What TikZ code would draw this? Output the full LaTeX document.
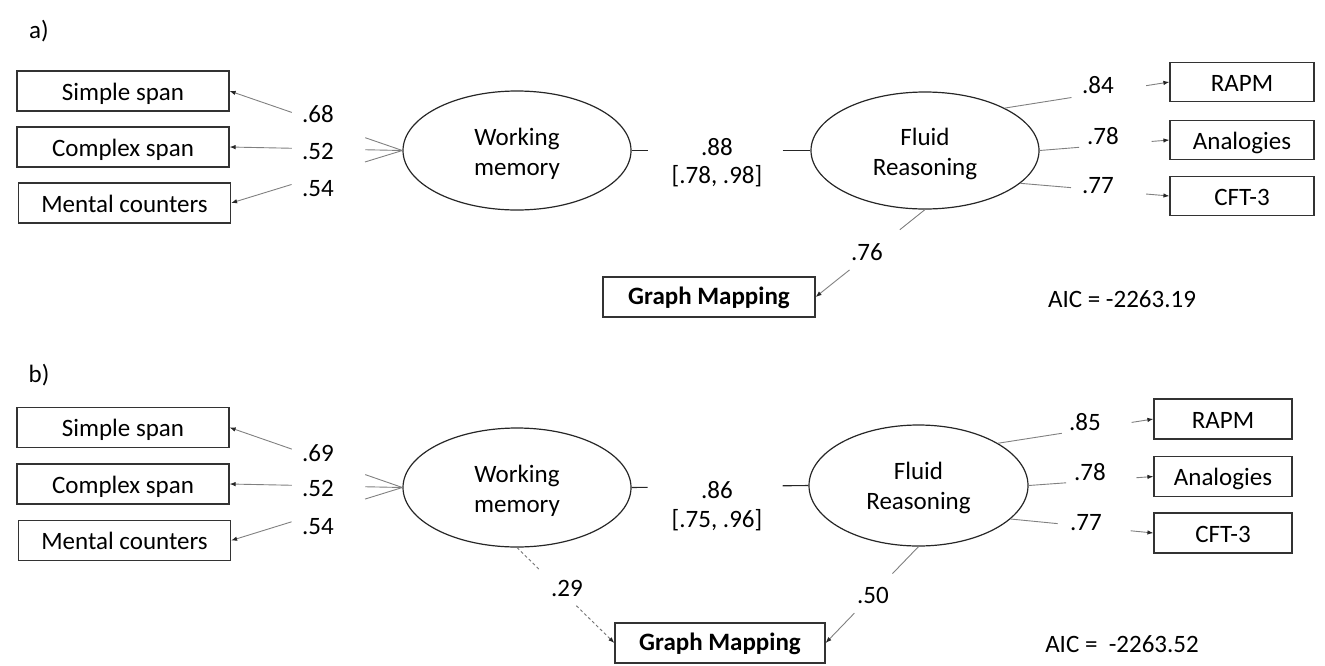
\documentclass[tikz,border=0pt]{standalone}
\usepackage{fontspec}
\setmainfont{Carlito}
\usetikzlibrary{shapes.geometric,arrows.meta}

% a loading drawn as a straight line from #2 to #3, broken between
% positions #4 and #5 where its coefficient sits; #1 styles both pieces
\newcommand\splitlink[6]{%
  \path (#2) -- (#3) coordinate[pos=#4] (#6s) coordinate[pos=#5] (#6e);
  \draw[#1] (#2) -- (#6s);
  \draw[#1,tip] (#6e) -- (#3);}

\begin{document}
\begin{tikzpicture}[x=1pt,y=-1pt,
  every node/.style={font=\fontsize{25}{30}\selectfont},
  obs/.style={draw=black!80,line width=1.2pt,minimum width=212pt,
    minimum height=40pt,inner sep=0pt,text height=22pt,text depth=4pt},
  rbox/.style={obs,minimum width=144pt,minimum height=39pt},
  lat/.style={ellipse,draw=black!85,line width=1.2pt,inner sep=0pt},
  lattext/.style={align=center,inner sep=0pt},
  coef/.style={inner sep=1pt},
  load/.style={draw=black!50,line width=0.9pt},
  dash link/.style={draw=black!55,line width=0.9pt,dash pattern=on 3pt off 2.5pt},
  tip/.style={-{Latex[length=6pt,width=4.5pt,color=black!85]}},
  gm/.style={obs,font=\fontsize{25}{30}\selectfont\bfseries,text height=20pt,text depth=6pt}
]
\useasboundingbox (0,0) rectangle (1325,665);

% ---------------- model a ----------------
\node (tagA) at (39,31) {a)};

\node[obs] (ss1) at (123,91) {Simple span};
\node[obs] (cs1) at (123,147) {Complex span};
\node[obs] (mc1) at (124.5,203) {Mental counters};

\node[lat,minimum width=228pt,minimum height=119pt] (wm1) at (517,150.5) {};
\node[lattext] (wm1t) at ([yshift=-3pt]wm1.center) {Working\\memory};
\node[lat,minimum width=228pt,minimum height=117pt] (fr1) at (925,150.5) {};
\node[lattext] (fr1t) at ([yshift=-3pt]fr1.center) {Fluid\\Reasoning};

\node[rbox] (rapm1) at (1242,82) {RAPM};
\node[rbox] (ana1) at (1242,140) {Analogies};
\node[rbox] (cft1) at (1242,196) {CFT-3};

\node[gm] (gm1) at (709,297) {Graph Mapping};

\node[coef] (c68) at (318,114) {.68};
\node[coef] (c52a) at (318,151) {.52};
\node[coef] (c54a) at (318,189) {.54};
\node[coef] (c88) at (717,147) {.88};
\node[coef] (ci1) at (717,176) {[.78, .98]};
\node[coef] (c84) at (1098,85) {.84};
\node[coef] (c78a) at (1103,136) {.78};
\node[coef] (c77a) at (1098,186) {.77};
\node[coef] (c76) at (867,252) {.76};
\node (aic1) at (1122,299) {AIC = -2263.19};

\splitlink{load}{wm1.west}{ss1.east}{0.215}{0.64}{l1a}
\splitlink{load}{wm1.west}{cs1.east}{0.215}{0.64}{l1b}
\splitlink{load}{wm1.west}{mc1.east}{0.218}{0.647}{l1c}
\splitlink{load}{fr1.28}{rapm1.west}{0.405}{0.859}{r1a}
\splitlink{load}{fr1.east}{ana1.west}{0.305}{0.863}{r1b}
\splitlink{load}{fr1.-19}{cft1.west}{0.34}{0.844}{r1c}
\splitlink{load}{fr1.south}{gm1.east}{0.23}{0.69}{g1}
\path (wm1.east) -- (fr1.west) coordinate[pos=0.089] (m1s) coordinate[pos=0.844] (m1e);
\draw[black!85,line width=1.1pt] (wm1.east) -- (m1s);
\draw[black!85,line width=1.1pt] (m1e) -- (fr1.west);

% ---------------- model b ----------------
\node (tagB) at (39,375) {b)};

\node[obs] (ss2) at (123,427.5) {Simple span};
\node[obs] (cs2) at (123,484) {Complex span};
\node[obs] (mc2) at (124.5,540.5) {Mental counters};

\node[lat,minimum width=228pt,minimum height=119pt] (wm2) at (517,487.5) {};
\node[lattext] (wm2t) at ([yshift=-3pt]wm2.center) {Working\\memory};
\node[lat,minimum width=219pt,minimum height=121pt] (fr2) at (918.5,485.5) {};
\node[lattext] (fr2t) at ([yshift=-2pt]fr2.center) {Fluid\\Reasoning};

\node[rbox,minimum width=138pt,minimum height=40pt] (rapm2) at (1223,419) {RAPM};
\node[rbox,minimum width=138pt,minimum height=40pt] (ana2) at (1223,476.5) {Analogies};
\node[rbox,minimum width=138pt,minimum height=40pt] (cft2) at (1223,533) {CFT-3};

\node[gm,minimum width=210pt] (gm2) at (720,643) {Graph Mapping};

\node[coef] (c69) at (318,453) {.69};
\node[coef] (c52b) at (318,488) {.52};
\node[coef] (c54b) at (318,527) {.54};
\node[coef] (c86) at (717,490) {.86};
\node[coef] (ci2) at (717,520) {[.75, .96]};
\node[coef] (c85) at (1085,422) {.85};
\node[coef] (c78b) at (1090,472) {.78};
\node[coef] (c77b) at (1086,523) {.77};
\node[coef] (c50) at (873,595) {.50};
\node[coef] (c29) at (567,588) {.29};
\node (aic2) at (1122,644) {AIC =\ \ -2263.52};

\splitlink{load}{wm2.west}{ss2.east}{0.215}{0.64}{l2a}
\splitlink{load}{wm2.west}{cs2.east}{0.215}{0.64}{l2b}
\splitlink{load}{wm2.west}{mc2.east}{0.218}{0.647}{l2c}
\splitlink{load}{fr2.28}{rapm2.west}{0.41}{0.86}{r2a}
\splitlink{load}{fr2.east}{ana2.west}{0.30}{0.864}{r2b}
\splitlink{load}{fr2.-20}{cft2.west}{0.33}{0.84}{r2c}
\splitlink{load}{fr2.south}{gm2.east}{0.28}{0.69}{g2}
\splitlink{dash link}{wm2.south}{gm2.west}{0.235}{0.61}{d2}
\path (wm2.east) -- (fr2.west) coordinate[pos=0.09] (m2s) coordinate[pos=0.854] (m2e);
\draw[black!85,line width=1.1pt] (wm2.east) -- (m2s);
\draw[black!85,line width=1.1pt] (m2e) -- (fr2.west);
\end{tikzpicture}
\end{document}
